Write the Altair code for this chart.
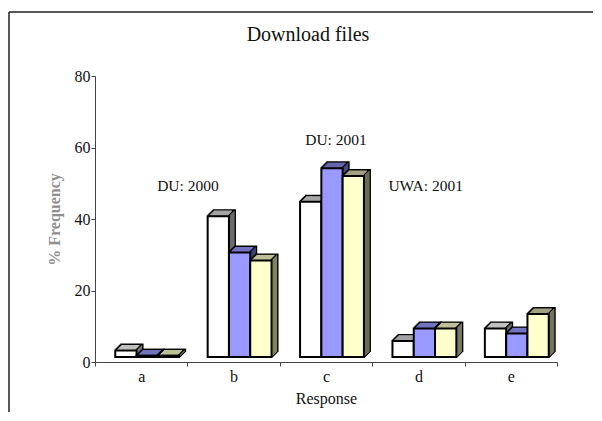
import altair as alt
import pandas as pd

# ---------------- data ----------------
categories = ["a", "b", "c", "d", "e"]
series = ["DU: 2000", "DU: 2001", "UWA: 2001"]
du2000 = [1.8, 39.4, 43.4, 4.5, 8.0]
du2001 = [0.4, 29.2, 52.8, 8.0, 6.6]
uwa2001 = [0.4, 27.0, 50.6, 8.0, 12.0]
y_ticks = [0, 20, 40, 60, 80]
chart_title = "Download files"
x_title = "Response"
y_title = "% Frequency"
label_anchor_cats = ["b", "c", "c"]

front_colors = ["#FFFFFF", "#9999FF", "#FFFFCC"]
top_colors = ["#C0C0C0", "#7373BF", "#BFBF99"]
side_colors = ["#808080", "#4D4D80", "#808066"]

rows = []
for i, c in enumerate(categories):
    for s, vals in zip(series, [du2000, du2001, uwa2001]):
        rows.append({"cat": c, "series": s, "value": vals[i]})
df = pd.DataFrame(rows)

# ---------------- layout ----------------
W, H = 462, 286
STEP = W / len(categories)
Q = 0.67
BW = STEP / (len(series) + 2 * Q)
SX, SY = 6, 5   # shift of front faces
D = 6           # depth of 3D effect
FONT = "Liberation Serif"
PAD = {"left": 87, "top": 68, "right": 37, "bottom": 51}

x_axis = alt.Axis(title=x_title, tickBand="extent", labelAngle=0, tickSize=4,
                  labelFont=FONT, labelFontSize=16, labelColor="#111", labelPadding=2,
                  titleFont=FONT, titleFontSize=16, titleFontWeight="normal", titleColor="#111",
                  titlePadding=6, domainColor="#444", tickColor="#444", grid=False)
y_axis = alt.Axis(title=y_title, values=y_ticks, tickSize=4, labelFont=FONT, labelFontSize=16,
                  labelColor="#111", labelPadding=1, titleFont=FONT, titleFontSize=16,
                  titleFontWeight="bold", titleColor="#8f8f8f", titlePadding=12,
                  domainColor="#444", tickColor="#444", grid=False)


def enc(dx, dy, axes=False):
    xs = alt.Scale(domain=categories, range=[dx, W + dx], paddingInner=0, paddingOuter=0)
    ys = alt.Scale(domain=[0, 80], range=[H - dy, -dy])
    os_ = alt.Scale(domain=series, paddingInner=0, paddingOuter=Q)
    return dict(
        x=alt.X("cat:N", scale=xs, axis=x_axis if axes else None),
        xOffset=alt.XOffset("series:N", scale=os_),
        y=alt.Y("value:Q", scale=ys, axis=y_axis if axes else None),
    )


layers = []

# frame (left and top edges, kept inside the drawing area)
one = pd.DataFrame({"f": [0]})
layers.append(alt.Chart(one).mark_rule(color="#222", strokeWidth=1.5).encode(
    x=alt.value(-86), y=alt.value(-64), y2=alt.value(H + PAD["bottom"] - 1)))
layers.append(alt.Chart(one).mark_rule(color="#222", strokeWidth=1.5).encode(
    x=alt.value(-86), x2=alt.value(W + PAD["right"] - 1), y=alt.value(-64)))

# title
title = alt.Chart(pd.DataFrame({"t": [chart_title]})).mark_text(
    font=FONT, fontSize=20, color="#111", baseline="middle", align="center"
).encode(x=alt.value(213), y=alt.value(-41), text="t:N")
layers.append(title)

# axes (invisible bars, unshifted scales)
layers.append(alt.Chart(df).mark_bar(opacity=0).encode(**enc(0, 0, axes=True)))

# 3D back faces per series
for j, s in enumerate(series):
    base = alt.Chart(df).transform_filter(alt.datum.series == s)
    for k in range(1, D + 1):
        layers.append(base.mark_bar(color="black", stroke="black", strokeWidth=2, opacity=1)
                      .encode(**enc(SX + k, SY + k)))
    for k in range(1, D):
        layers.append(base.mark_rule(color=side_colors[j], strokeWidth=1.2, opacity=1)
                      .encode(**enc(SX + BW / 2 + k, SY + k), y2=alt.datum(0)))
    for k in range(1, D):
        layers.append(base.mark_tick(orient="horizontal", size=BW - 3, thickness=1.2,
                                     color=top_colors[j], opacity=1)
                      .encode(**enc(SX + k - 0.5, SY + k)))

# front faces
layers.append(alt.Chart(df).mark_bar(stroke="black", strokeWidth=2, opacity=1).encode(
    **enc(SX, SY),
    color=alt.Color("series:N", scale=alt.Scale(domain=series, range=front_colors), legend=None),
))

# series labels
offsets = [(-18, -35), (10, -33), (72, 5)]
for s, c, (ddx, ddy) in zip(series, label_anchor_cats, offsets):
    layers.append(
        alt.Chart(df).transform_filter((alt.datum.series == s) & (alt.datum.cat == c))
        .mark_text(font=FONT, fontSize=15.5, color="#111", dx=ddx, dy=ddy,
                   align="center", baseline="middle")
        .encode(**enc(0, 0), text="series:N")
    )

chart = alt.layer(*layers).resolve_scale(
    x="independent", y="independent", xOffset="independent"
).properties(
    width=W, height=H,
    padding=PAD,
    autosize=alt.AutoSizeParams(type="none"),
    background="white",
).configure_view(stroke=None)

chart.save("out.html", embed_options={"renderer": "svg", "actions": False})
